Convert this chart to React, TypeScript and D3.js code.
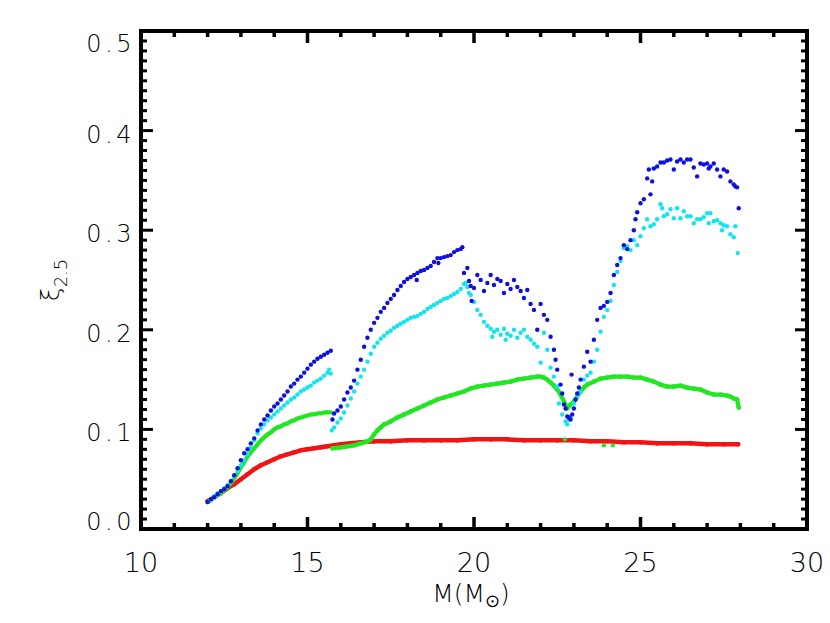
import React from "react";
import * as d3 from "d3";

// ---- data: [mass (Msun), xi_2.5] ----
const xTicksMajor = [10, 15, 20, 25, 30];
const yTicksMajor = [0.0, 0.1, 0.2, 0.3, 0.4, 0.5];
const yTickLabels = ["0.0", "0.1", "0.2", "0.3", "0.4", "0.5"];

const redSeg: [number, number][] = [
  [12.0, 0.028], [12.2, 0.032], [12.4, 0.036], [12.6, 0.041], [12.8, 0.045], [13.0, 0.05],
  [13.2, 0.055], [13.4, 0.06], [13.6, 0.064], [13.8, 0.067], [14.0, 0.07], [14.2, 0.073],
  [14.4, 0.075], [14.6, 0.077], [14.8, 0.079], [15.0, 0.08], [15.2, 0.081], [15.4, 0.082],
  [15.6, 0.083], [15.8, 0.084], [16.0, 0.085], [16.3, 0.086], [16.6, 0.087], [17.0, 0.088],
  [17.5, 0.088], [18.0, 0.089], [18.5, 0.089], [19.0, 0.089], [19.5, 0.089], [20.0, 0.09],
  [20.5, 0.09], [21.0, 0.09], [21.5, 0.089], [22.0, 0.089], [22.5, 0.089], [23.0, 0.089],
  [23.5, 0.088], [24.0, 0.088], [24.5, 0.087], [25.0, 0.087], [25.5, 0.086], [26.0, 0.086],
  [26.5, 0.086], [27.0, 0.085], [27.5, 0.085], [27.93, 0.085],
];

const greenSeg1: [number, number][] = [
  [12.0, 0.027], [12.1, 0.029], [12.2, 0.032], [12.3, 0.034], [12.4, 0.036], [12.5, 0.039],
  [12.6, 0.042], [12.7, 0.046], [12.8, 0.051], [12.9, 0.056], [13.0, 0.062], [13.1, 0.067],
  [13.2, 0.073], [13.3, 0.077], [13.4, 0.081], [13.5, 0.085], [13.6, 0.089], [13.7, 0.092],
  [13.8, 0.095], [13.9, 0.097], [14.0, 0.1], [14.1, 0.102], [14.2, 0.103], [14.3, 0.105],
  [14.4, 0.106], [14.5, 0.108], [14.6, 0.109], [14.7, 0.111], [14.8, 0.112], [14.9, 0.113],
  [15.0, 0.114], [15.1, 0.115], [15.2, 0.115], [15.3, 0.116], [15.4, 0.116], [15.5, 0.117],
  [15.6, 0.117], [15.7, 0.117],
];

const greenSeg2: [number, number][] = [
  [15.75, 0.081], [16.0, 0.082], [16.2, 0.083], [16.4, 0.084], [16.6, 0.086], [16.8, 0.088],
  [16.9, 0.09], [17.0, 0.095], [17.1, 0.099], [17.2, 0.102], [17.3, 0.105], [17.5, 0.108],
  [17.7, 0.112], [17.9, 0.115], [18.1, 0.118], [18.3, 0.121], [18.5, 0.124], [18.7, 0.127],
  [18.9, 0.13], [19.1, 0.132], [19.3, 0.134], [19.5, 0.136], [19.7, 0.138], [19.9, 0.141],
  [20.1, 0.143], [20.3, 0.144], [20.5, 0.145], [20.7, 0.146], [20.9, 0.147], [21.1, 0.148],
  [21.3, 0.15], [21.5, 0.151], [21.7, 0.152], [21.9, 0.153], [22.0, 0.153], [22.1, 0.152],
  [22.2, 0.15], [22.3, 0.147], [22.4, 0.144], [22.5, 0.14], [22.6, 0.135], [22.7, 0.128],
  [22.8, 0.121], [22.85, 0.123], [22.9, 0.125], [23.0, 0.128], [23.1, 0.133], [23.2, 0.138],
  [23.3, 0.142], [23.4, 0.145], [23.6, 0.148], [23.8, 0.151], [24.0, 0.152], [24.2, 0.153],
  [24.4, 0.153], [24.6, 0.153], [24.8, 0.152], [25.0, 0.152], [25.2, 0.15], [25.4, 0.148],
  [25.6, 0.145], [25.8, 0.143], [26.0, 0.143], [26.2, 0.144], [26.4, 0.142], [26.6, 0.141],
  [26.8, 0.14], [27.0, 0.137], [27.2, 0.135], [27.4, 0.135], [27.6, 0.134], [27.7, 0.133],
  [27.8, 0.131], [27.9, 0.13], [27.95, 0.122],
];

const greenStray: [number, number][] = [[22.73, 0.09], [23.9, 0.084], [24.17, 0.084]];

const cyanSeg1: [number, number][] = [
  [12.0, 0.027], [12.1, 0.03], [12.2, 0.033], [12.3, 0.036], [12.4, 0.038], [12.5, 0.041],
  [12.6, 0.044], [12.7, 0.048], [12.8, 0.053], [12.9, 0.058], [13.0, 0.064], [13.1, 0.069],
  [13.2, 0.075], [13.3, 0.082], [13.4, 0.089], [13.5, 0.096], [13.6, 0.101], [13.7, 0.105],
  [13.8, 0.109], [13.9, 0.112], [14.0, 0.115], [14.1, 0.118], [14.2, 0.121], [14.3, 0.124],
  [14.4, 0.127], [14.5, 0.13], [14.6, 0.132], [14.7, 0.135], [14.8, 0.138], [14.9, 0.14],
  [15.0, 0.142], [15.1, 0.144], [15.2, 0.147], [15.3, 0.149], [15.4, 0.151], [15.5, 0.154],
  [15.6, 0.157], [15.65, 0.16], [15.7, 0.156],
];

const cyanSeg2: [number, number][] = [
  [15.73, 0.099], [15.8, 0.102], [15.9, 0.107], [16.0, 0.111], [16.1, 0.117], [16.2, 0.124],
  [16.3, 0.131], [16.4, 0.138], [16.5, 0.146], [16.6, 0.153], [16.7, 0.16], [16.8, 0.168],
  [16.9, 0.176], [17.0, 0.183], [17.1, 0.187], [17.2, 0.191], [17.3, 0.194], [17.4, 0.197],
  [17.5, 0.199], [17.6, 0.202], [17.7, 0.204], [17.8, 0.206], [17.9, 0.208], [18.0, 0.21],
  [18.1, 0.212], [18.2, 0.213], [18.3, 0.214], [18.4, 0.216], [18.5, 0.218], [18.6, 0.221],
  [18.7, 0.223], [18.8, 0.225], [18.9, 0.227], [19.0, 0.229], [19.1, 0.231], [19.2, 0.232],
  [19.3, 0.234], [19.4, 0.236], [19.5, 0.238], [19.6, 0.241], [19.7, 0.246],
];

const cyanSeg3: [number, number][] = [
  [19.75, 0.247], [19.8, 0.243], [19.85, 0.237], [19.9, 0.235], [20.0, 0.228], [20.1, 0.22],
  [20.2, 0.215], [20.3, 0.208], [20.4, 0.204], [20.5, 0.201], [20.55, 0.193], [20.6, 0.198],
  [20.7, 0.2], [20.8, 0.195], [20.9, 0.201], [20.95, 0.19], [21.0, 0.196], [21.1, 0.194],
  [21.2, 0.2], [21.3, 0.192], [21.4, 0.197], [21.5, 0.2], [21.6, 0.193], [21.7, 0.19],
  [21.8, 0.186], [21.9, 0.183], [22.0, 0.167], [22.1, 0.197], [22.2, 0.18], [22.3, 0.162],
  [22.4, 0.153], [22.5, 0.143], [22.55, 0.126], [22.65, 0.115], [22.75, 0.108], [22.8, 0.105],
  [22.85, 0.11], [22.9, 0.113], [23.0, 0.126], [23.1, 0.133], [23.2, 0.138], [23.3, 0.15],
  [23.4, 0.154], [23.5, 0.157], [23.6, 0.168], [23.7, 0.18], [23.8, 0.198], [23.9, 0.213],
  [24.0, 0.22], [24.1, 0.229], [24.2, 0.245], [24.3, 0.258], [24.4, 0.269], [24.5, 0.282],
  [24.6, 0.284], [24.7, 0.28], [24.8, 0.29], [24.9, 0.285], [25.0, 0.294], [25.1, 0.302],
  [25.2, 0.311], [25.3, 0.304], [25.4, 0.306], [25.5, 0.311], [25.6, 0.326], [25.65, 0.322],
  [25.7, 0.314], [25.8, 0.316], [25.9, 0.321], [26.0, 0.312], [26.1, 0.322], [26.2, 0.312],
  [26.3, 0.319], [26.4, 0.314], [26.5, 0.314], [26.6, 0.307], [26.7, 0.311], [26.8, 0.311],
  [26.9, 0.313], [27.0, 0.317], [27.05, 0.307], [27.1, 0.317], [27.2, 0.309], [27.3, 0.31],
  [27.4, 0.307], [27.45, 0.3], [27.5, 0.305], [27.6, 0.304], [27.7, 0.296], [27.8, 0.293],
  [27.85, 0.304], [27.92, 0.277],
];

const blueSeg1: [number, number][] = [
  [12.0, 0.027], [12.1, 0.03], [12.2, 0.032], [12.3, 0.035], [12.4, 0.038], [12.5, 0.04],
  [12.6, 0.043], [12.7, 0.048], [12.8, 0.054], [12.9, 0.061], [13.0, 0.069], [13.1, 0.076],
  [13.2, 0.08], [13.3, 0.086], [13.4, 0.091], [13.5, 0.099], [13.6, 0.105], [13.7, 0.11],
  [13.8, 0.114], [13.9, 0.119], [14.0, 0.123], [14.1, 0.126], [14.2, 0.13], [14.3, 0.134],
  [14.4, 0.138], [14.5, 0.143], [14.6, 0.146], [14.7, 0.15], [14.8, 0.153], [14.9, 0.157],
  [15.0, 0.161], [15.1, 0.165], [15.2, 0.168], [15.3, 0.171], [15.4, 0.173], [15.5, 0.175],
  [15.6, 0.177], [15.7, 0.179],
];

const blueSeg2: [number, number][] = [
  [15.75, 0.11], [15.8, 0.116], [15.9, 0.119], [16.0, 0.123], [16.1, 0.13], [16.2, 0.137],
  [16.3, 0.142], [16.4, 0.149], [16.5, 0.16], [16.6, 0.17], [16.7, 0.183], [16.8, 0.192],
  [16.9, 0.2], [17.0, 0.207], [17.1, 0.212], [17.2, 0.218], [17.3, 0.222], [17.4, 0.227],
  [17.5, 0.231], [17.6, 0.235], [17.7, 0.24], [17.8, 0.244], [17.9, 0.248], [18.0, 0.251],
  [18.1, 0.253], [18.2, 0.255], [18.28, 0.25], [18.3, 0.257], [18.4, 0.259], [18.5, 0.26],
  [18.6, 0.262], [18.7, 0.264], [18.8, 0.268], [18.9, 0.272], [18.93, 0.267], [19.0, 0.272],
  [19.1, 0.273], [19.2, 0.274], [19.3, 0.275], [19.4, 0.278], [19.5, 0.28], [19.6, 0.281],
  [19.65, 0.283],
];

const blueSeg3: [number, number][] = [
  [19.7, 0.257], [19.8, 0.262], [19.85, 0.249], [19.9, 0.244], [19.93, 0.229], [20.0, 0.242],
  [20.1, 0.255], [20.2, 0.25], [20.3, 0.239], [20.4, 0.247], [20.5, 0.255], [20.6, 0.245],
  [20.7, 0.251], [20.8, 0.249], [20.9, 0.237], [21.0, 0.246], [21.1, 0.241], [21.2, 0.25],
  [21.3, 0.243], [21.4, 0.239], [21.5, 0.232], [21.6, 0.24], [21.7, 0.226], [21.8, 0.22],
  [21.9, 0.2], [22.0, 0.226], [22.1, 0.215], [22.2, 0.21], [22.3, 0.193], [22.4, 0.18],
  [22.45, 0.17], [22.5, 0.16], [22.6, 0.145], [22.65, 0.136], [22.7, 0.125], [22.75, 0.121],
  [22.8, 0.113], [22.85, 0.112], [22.9, 0.11], [22.93, 0.155], [22.95, 0.115], [23.0, 0.121],
  [23.05, 0.13], [23.1, 0.136], [23.15, 0.142], [23.2, 0.15], [23.3, 0.163], [23.4, 0.178],
  [23.5, 0.168], [23.6, 0.19], [23.7, 0.21], [23.8, 0.222], [23.9, 0.224], [24.0, 0.228],
  [24.1, 0.237], [24.2, 0.255], [24.3, 0.265], [24.4, 0.272], [24.5, 0.285], [24.6, 0.281],
  [24.7, 0.29], [24.8, 0.3], [24.85, 0.311], [24.9, 0.318], [25.0, 0.327], [25.1, 0.331],
  [25.2, 0.352], [25.25, 0.361], [25.3, 0.336], [25.35, 0.349], [25.4, 0.362], [25.5, 0.364],
  [25.6, 0.368], [25.7, 0.368], [25.8, 0.37], [25.9, 0.371], [26.0, 0.361], [26.1, 0.369],
  [26.2, 0.371], [26.3, 0.368], [26.4, 0.371], [26.5, 0.371], [26.6, 0.363], [26.7, 0.354],
  [26.8, 0.367], [26.9, 0.366], [27.0, 0.367], [27.05, 0.362], [27.1, 0.364], [27.2, 0.367],
  [27.3, 0.361], [27.4, 0.354], [27.5, 0.361], [27.6, 0.359], [27.7, 0.349], [27.8, 0.346],
  [27.85, 0.344], [27.9, 0.343], [27.95, 0.322],
];

const RED = "#f01414";
const GREEN = "#22e622";
const CYAN = "#14e4ee";
const BLUE = "#0f0fde";

const W = 830;
const H = 623;
const X0 = 141, X1 = 807, Y0 = 529, Y1 = 31;
const FONT = "'DejaVu Sans', sans-serif";

export default function App() {
  const x = d3.scaleLinear().domain([10, 30]).range([X0, X1]);
  const y = d3.scaleLinear().domain([0, 0.5]).range([Y0, Y1]);
  const line = d3.line<[number, number]>().x((d) => x(d[0])).y((d) => y(d[1]));

  const xMinor = d3.range(10, 30.001, 1);
  const yMinor = d3.range(0, 51).map((i) => i / 100);

  const dots = (pts: [number, number][], color: string, r: number, key: string) =>
    pts.map((d, i) => <circle key={key + i} cx={x(d[0])} cy={y(d[1])} r={r} fill={color} />);

  const AX = 4;
  return (
    <svg
      width={W}
      height={H}
      style={{ position: "absolute", left: 0, top: 0, background: "#fff" }}
      fontFamily={FONT}
    >
      <rect x={0} y={0} width={W} height={H} fill="#fff" />
      {/* data */}
      <path d={line(redSeg) || ""} fill="none" stroke={RED} strokeWidth={4.5} strokeLinecap="round" strokeLinejoin="round" />
      {dots(redSeg, RED, 2.3, "r")}
      <path d={line(greenSeg1) || ""} fill="none" stroke={GREEN} strokeWidth={4.3} strokeLinecap="round" strokeLinejoin="round" />
      <path d={line(greenSeg2) || ""} fill="none" stroke={GREEN} strokeWidth={4.3} strokeLinecap="round" strokeLinejoin="round" />
      {dots(greenSeg2, GREEN, 2.3, "g2")}
      {dots(greenStray, GREEN, 2.2, "gs")}
      {dots(cyanSeg1, CYAN, 2.2, "c1")}
      {dots(cyanSeg2, CYAN, 2.2, "c2")}
      {dots(cyanSeg3, CYAN, 2.2, "c3")}
      {dots(blueSeg1, BLUE, 2.2, "b1")}
      {dots(blueSeg2, BLUE, 2.2, "b2")}
      {dots(blueSeg3, BLUE, 2.2, "b3")}

      {/* frame */}
      <rect x={X0} y={Y1} width={X1 - X0} height={Y0 - Y1} fill="none" stroke="#000" strokeWidth={AX} />
      {/* x ticks bottom & top */}
      {xMinor.map((v) => {
        const major = xTicksMajor.includes(Math.round(v));
        const len = major ? 12 : 6;
        return (
          <g key={"xt" + v}>
            <line x1={x(v)} x2={x(v)} y1={Y0} y2={Y0 - len} stroke="#000" strokeWidth={3.5} />
            <line x1={x(v)} x2={x(v)} y1={Y1} y2={Y1 + len} stroke="#000" strokeWidth={3.5} />
          </g>
        );
      })}
      {/* y ticks left & right */}
      {yMinor.map((v, i) => {
        const len = i % 10 === 0 ? 12 : 6;
        return (
          <g key={"yt" + i}>
            <line x1={X0} x2={X0 + len} y1={y(v)} y2={y(v)} stroke="#000" strokeWidth={3} />
            <line x1={X1} x2={X1 - len} y1={y(v)} y2={y(v)} stroke="#000" strokeWidth={3} />
          </g>
        );
      })}
      {/* x tick labels */}
      {xTicksMajor.map((v) => (
        <text key={"xl" + v} x={x(v)} y={572} textAnchor="middle" fontSize={27} fontWeight={300} fill="#000">
          {String(v)}
        </text>
      ))}
      {/* y tick labels */}
      {yTicksMajor.map((v, i) => {
        const base = Math.min(Math.max(y(v) + 12, 52), 529.5);
        return (
          <text key={"yl" + i} x={135} y={base} textAnchor="end" fontSize={24} fontWeight={300} letterSpacing={3.5} fill="#000">
            {yTickLabels[i]}
          </text>
        );
      })}
      {/* x title */}
      <text x={471} y={602} textAnchor="middle" fontSize={25} fontWeight={300} fill="#000">
        M(M<tspan fontSize={18} dy={5}>⊙</tspan><tspan dy={-5}>)</tspan>
      </text>
      {/* y title */}
      <text transform={`translate(59,${(Y0 + Y1) / 2}) rotate(-90)`} textAnchor="middle" fontSize={25} fontWeight={300} fill="#000">
        ξ<tspan fontSize={18} dy={8}>2.5</tspan>
      </text>
    </svg>
  );
}
